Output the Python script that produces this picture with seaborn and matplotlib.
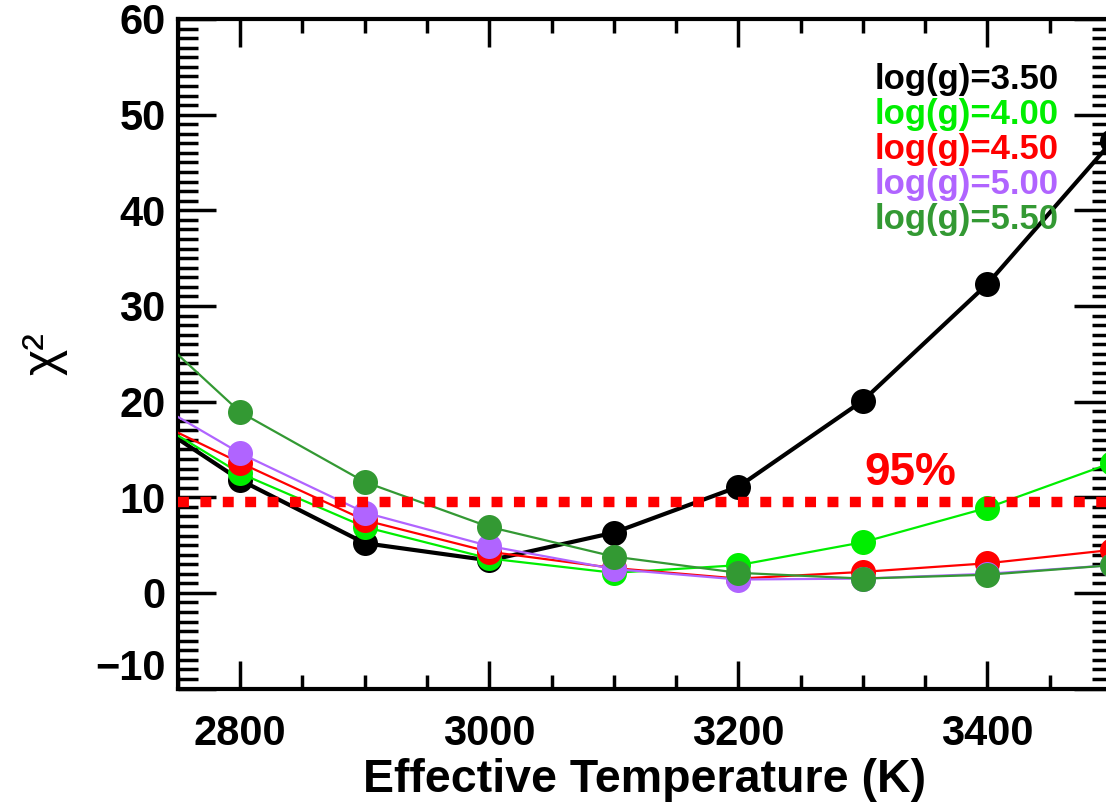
import matplotlib
matplotlib.use("Agg")
import matplotlib.pyplot as plt
import seaborn as sns
import pandas as pd
from matplotlib.ticker import MultipleLocator

# chi^2 of the model fits vs effective temperature, one curve per log(g)
teff = [2700, 2800, 2900, 3000, 3100, 3200, 3300, 3400, 3500]
chi_g350 = [20.4, 11.8, 5.2, 3.4, 6.3, 11.1, 20.1, 32.3, 47.2]
chi_g400 = [20.4, 12.5, 6.9, 3.6, 2.1, 2.9, 5.3, 8.9, 13.6]
chi_g450 = [19.9, 13.6, 7.6, 4.3, 2.6, 1.5, 2.2, 3.1, 4.5]
chi_g500 = [22.2, 14.6, 8.4, 4.9, 2.5, 1.4, 1.5, 2.0, 2.9]
chi_g550 = [30.9, 18.9, 11.6, 6.9, 3.8, 2.1, 1.5, 1.9, 2.9]
labels = ["log(g)=3.50", "log(g)=4.00", "log(g)=4.50", "log(g)=5.00", "log(g)=5.50"]
colors = ["#000000", "#00ee00", "#ff0000", "#b064ff", "#339933"]
limit_95 = 9.49

sns.set_style("ticks")
plt.rcParams["font.family"] = ["Liberation Sans", "DejaVu Sans"]
plt.rcParams["font.weight"] = "bold"
for k in ["text.color", "axes.labelcolor", "xtick.color", "ytick.color", "axes.edgecolor"]:
    plt.rcParams[k] = "black"

fig = plt.figure(figsize=(11.06, 8.08), dpi=100)
ax = fig.add_axes([0.1609, 0.1478, 0.8445, 0.8287])

df = pd.DataFrame({"teff": teff * 5,
                   "chi2": chi_g350 + chi_g400 + chi_g450 + chi_g500 + chi_g550,
                   "logg": [l for l in labels for _ in teff]})

for i, (lab, col) in enumerate(zip(labels, colors)):
    sub = df[df.logg == lab]
    sns.lineplot(data=sub, x="teff", y="chi2", color=col, ax=ax,
                 lw=3.0 if i == 0 else 1.6, marker="o", markersize=18,
                 markeredgewidth=0, legend=False, zorder=3 + i)

ax.axhline(limit_95, color="#ff0000", lw=7.5, dashes=(1.05, 1.1),
           dash_capstyle="butt", zorder=10)
ax.text(3301, 11.3, "95%", color="#ff0000", fontsize=33, fontweight="bold",
        ha="left", va="baseline")

for i, (lab, col) in enumerate(zip(labels, colors)):
    ax.text(0.746, 0.8955 - 0.0522 * i, lab, color=col, fontsize=25,
            fontweight="bold", transform=ax.transAxes, ha="left", va="baseline")

ax.set_xlim(2750, 3500)
ax.set_ylim(-10, 60)
ax.xaxis.set_major_locator(MultipleLocator(200))
ax.xaxis.set_minor_locator(MultipleLocator(50))
ax.yaxis.set_major_locator(MultipleLocator(10))
ax.yaxis.set_minor_locator(MultipleLocator(1))

ax.tick_params(axis="both", which="both", direction="in", top=True, right=True,
               width=2.5, color="black", labelcolor="black")
ax.tick_params(axis="x", which="major", length=20, pad=18, labelsize=30)
ax.tick_params(axis="x", which="minor", length=10)
ax.tick_params(axis="y", which="major", length=27.5, pad=9, labelsize=30)
ax.tick_params(axis="y", which="minor", length=14.5)
for s in ax.spines.values():
    s.set_linewidth(3)
    s.set_color("black")
    s.set_visible(True)

ax.set_yticks(range(-10, 61, 10))
ax.set_yticklabels(["\u221210" if v < 0 else str(v) for v in range(-10, 61, 10)])
ax.get_yticklabels()[0].set_va("bottom")

ax.set_xlabel("Effective Temperature (K)", fontsize=33.5, fontweight="bold", labelpad=3)
ax.set_ylabel("\u03c7\u00b2", fontsize=36, fontweight="normal", labelpad=20)

plt.savefig("out.png", dpi=100)
